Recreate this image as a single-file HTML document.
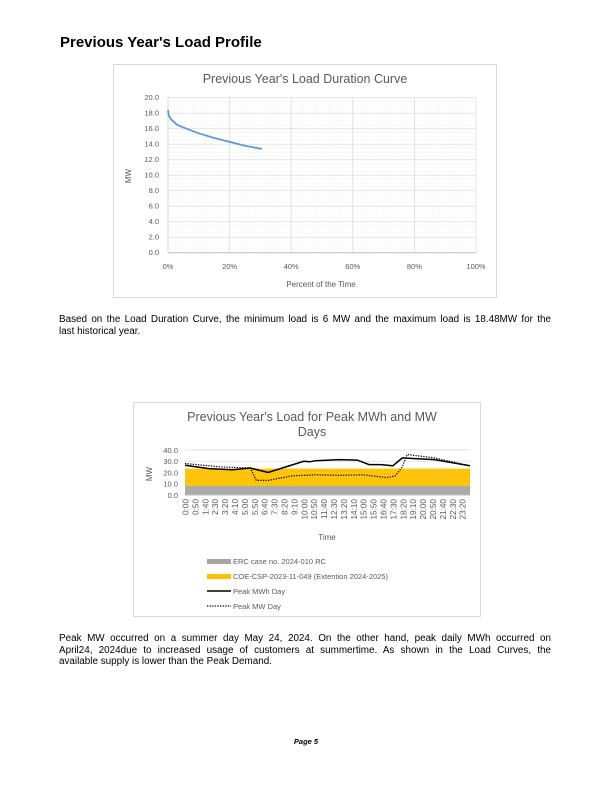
<!DOCTYPE html>
<html><head><meta charset="utf-8"><style>
body{margin:0;background:#fff;}
.pg{position:relative;width:612px;height:792px;font-family:"Liberation Sans",Arial,sans-serif;color:#000;}
h1{position:absolute;left:60px;top:34px;margin:0;font-size:15px;font-weight:bold;}
.p{position:absolute;left:59px;width:492px;font-size:9.9px;line-height:11.6px;}
.p div{text-align:justify;text-align-last:justify;white-space:nowrap;}
.p div.l{text-align-last:left;}
svg{position:absolute;left:0;top:0;}
</style></head><body><div class="pg">
<h1>Previous Year's Load Profile</h1>
<svg width="612" height="792" font-family="Liberation Sans, Arial, sans-serif">
<defs>
<pattern id="mx" width="12.32" height="7.75" patternUnits="userSpaceOnUse" x="168" y="97.7">
<path d="M0 0V7.75M0 0H12.32" stroke="#ececec" stroke-width="0.6" fill="none"/>
<path d="M0 3.875H12.32" stroke="#f1f1f1" stroke-width="0.5"/>
</pattern>
</defs>
<rect x="113.5" y="64.5" width="383" height="233" fill="#fff" stroke="#d9d9d9"/>
<text x="305" y="83" font-size="12.5" fill="#595959" text-anchor="middle">Previous Year's Load Duration Curve</text>
<rect x="168" y="97.7" width="308" height="155" fill="url(#mx)"/>
<g stroke="#d9d9d9" stroke-width="0.7">
<line x1="168" y1="97.7" x2="476" y2="97.7"/><line x1="168" y1="113.2" x2="476" y2="113.2"/><line x1="168" y1="128.7" x2="476" y2="128.7"/><line x1="168" y1="144.2" x2="476" y2="144.2"/><line x1="168" y1="159.7" x2="476" y2="159.7"/><line x1="168" y1="175.2" x2="476" y2="175.2"/><line x1="168" y1="190.7" x2="476" y2="190.7"/><line x1="168" y1="206.2" x2="476" y2="206.2"/><line x1="168" y1="221.7" x2="476" y2="221.7"/><line x1="168" y1="237.2" x2="476" y2="237.2"/>
<line x1="229.6" y1="97.7" x2="229.6" y2="252.7"/><line x1="291.2" y1="97.7" x2="291.2" y2="252.7"/><line x1="352.8" y1="97.7" x2="352.8" y2="252.7"/><line x1="414.4" y1="97.7" x2="414.4" y2="252.7"/><line x1="476" y1="97.7" x2="476" y2="252.7"/>
</g>
<line x1="168" y1="252.7" x2="476" y2="252.7" stroke="#bfbfbf"/>
<line x1="168" y1="97.7" x2="168" y2="252.7" stroke="#d9d9d9"/>
<g font-size="7.5" fill="#595959" text-anchor="end">
<text x="159" y="100">20.0</text><text x="159" y="115.5">18.0</text><text x="159" y="131">16.0</text><text x="159" y="146.5">14.0</text><text x="159" y="162">12.0</text><text x="159" y="177.5">10.0</text><text x="159" y="193">8.0</text><text x="159" y="208.5">6.0</text><text x="159" y="224">4.0</text><text x="159" y="239.5">2.0</text><text x="159" y="255">0.0</text>
</g>
<g font-size="7.5" fill="#595959" text-anchor="middle">
<text x="168" y="269">0%</text><text x="229.6" y="269">20%</text><text x="291.2" y="269">40%</text><text x="352.8" y="269">60%</text><text x="414.4" y="269">80%</text><text x="476" y="269">100%</text>
</g>
<text x="321" y="287" font-size="8" fill="#595959" text-anchor="middle">Percent of the Time</text>
<text transform="translate(131,176) rotate(-90)" font-size="8" fill="#595959" text-anchor="middle">MW</text>
<path d="M168 110.1 L168.6 115 L171.1 119.4 L177.2 124.8 L186.5 128.7 L198.8 133.3 L214.2 138 L229.6 141.9 L245 145.8 L262 148.9" fill="none" stroke="#5b9bd5" stroke-width="1.8"/>

<rect x="133.5" y="402.5" width="347" height="214" fill="#fff" stroke="#d9d9d9"/>
<text x="312" y="421" font-size="12.5" fill="#595959" text-anchor="middle">Previous Year's Load for Peak MWh and MW</text>
<text x="312" y="436" font-size="12.5" fill="#595959" text-anchor="middle">Days</text>
<g stroke="#d9d9d9" stroke-width="0.7">
<line x1="185" y1="450" x2="470" y2="450"/><line x1="185" y1="461.25" x2="470" y2="461.25"/><line x1="185" y1="472.5" x2="470" y2="472.5"/><line x1="185" y1="483.75" x2="470" y2="483.75"/>
</g>
<defs><pattern id="vb" width="1.98" height="10" patternUnits="userSpaceOnUse" x="185"><rect width="1.98" height="10" fill="none"/><line x1="0" y1="0" x2="0" y2="10" stroke="#fff" stroke-width="0.35" stroke-opacity="0.6"/></pattern></defs>
<rect x="185" y="468.6" width="285" height="17.4" fill="#ffc000"/>
<rect x="185" y="486" width="285" height="9" fill="#a5a5a5"/>
<rect x="185" y="468.6" width="285" height="26.4" fill="url(#vb)"/>
<line x1="185" y1="495" x2="470" y2="495" stroke="#bfbfbf"/>
<g font-size="7.5" fill="#595959" text-anchor="end">
<text x="178" y="453">40.0</text><text x="178" y="464">30.0</text><text x="178" y="475.5">20.0</text><text x="178" y="486.5">10.0</text><text x="178" y="498">0.0</text>
</g>
<text transform="translate(152,474) rotate(-90)" font-size="8" fill="#595959" text-anchor="middle">MW</text>
<g font-size="8.2" fill="#595959" text-anchor="end">
<text transform="translate(188.5,499) rotate(-90)">0:00</text>
<text transform="translate(198.4,499) rotate(-90)">0:50</text>
<text transform="translate(208.3,499) rotate(-90)">1:40</text>
<text transform="translate(218.2,499) rotate(-90)">2:30</text>
<text transform="translate(228.1,499) rotate(-90)">3:20</text>
<text transform="translate(238,499) rotate(-90)">4:10</text>
<text transform="translate(247.9,499) rotate(-90)">5:00</text>
<text transform="translate(257.8,499) rotate(-90)">5:50</text>
<text transform="translate(267.7,499) rotate(-90)">6:40</text>
<text transform="translate(277.6,499) rotate(-90)">7:30</text>
<text transform="translate(287.5,499) rotate(-90)">8:20</text>
<text transform="translate(297.4,499) rotate(-90)">9:10</text>
<text transform="translate(307.3,499) rotate(-90)">10:00</text>
<text transform="translate(317.2,499) rotate(-90)">10:50</text>
<text transform="translate(327.1,499) rotate(-90)">11:40</text>
<text transform="translate(337,499) rotate(-90)">12:30</text>
<text transform="translate(346.9,499) rotate(-90)">13:20</text>
<text transform="translate(356.8,499) rotate(-90)">14:10</text>
<text transform="translate(366.7,499) rotate(-90)">15:00</text>
<text transform="translate(376.6,499) rotate(-90)">15:50</text>
<text transform="translate(386.5,499) rotate(-90)">16:40</text>
<text transform="translate(396.4,499) rotate(-90)">17:30</text>
<text transform="translate(406.3,499) rotate(-90)">18:20</text>
<text transform="translate(416.2,499) rotate(-90)">19:10</text>
<text transform="translate(426.1,499) rotate(-90)">20:00</text>
<text transform="translate(436,499) rotate(-90)">20:50</text>
<text transform="translate(445.9,499) rotate(-90)">21:40</text>
<text transform="translate(455.8,499) rotate(-90)">22:30</text>
<text transform="translate(465.7,499) rotate(-90)">23:20</text>
</g>
<text x="327" y="540" font-size="8" fill="#595959" text-anchor="middle">Time</text>
<path d="M185 465.2 L208.8 468.6 L232.5 469.7 L250.3 468 L268.1 472.5 L285.9 466.9 L303.8 461.3 L309.7 461.8 L315.6 460.7 L339.4 459.6 L357.2 460.1 L369.1 464.6 L380.9 464.6 L392.8 465.8 L402.3 457.9 L410.6 458.4 L434.4 459.6 L470 465.8" fill="none" stroke="#000" stroke-width="1.5"/>
<path d="M185 463.5 L220.6 466.9 L250.3 468 L256.3 480.4 L268.1 480.4 L291.9 475.9 L315.6 474.8 L339.4 475.3 L363.1 474.8 L386.9 477.6 L395.2 475.9 L402.3 466.9 L407.1 454.5 L434.4 457.9 L470 465.8" fill="none" stroke="#000" stroke-width="1.2" stroke-dasharray="1.3 1.3"/>
<rect x="207" y="559" width="24" height="5" fill="#a5a5a5"/>
<text x="233" y="564" font-size="7.5" fill="#595959">ERC case no. 2024-010 RC</text>
<rect x="207" y="574" width="24" height="5" fill="#ffc000"/>
<text x="233" y="579" font-size="7.5" fill="#595959">COE-CSP-2023-11-049 (Extention 2024-2025)</text>
<line x1="207" y1="591" x2="231" y2="591" stroke="#000" stroke-width="1.5"/>
<text x="233" y="594" font-size="7.5" fill="#595959">Peak MWh Day</text>
<line x1="207" y1="606" x2="231" y2="606" stroke="#000" stroke-width="1.2" stroke-dasharray="1.3 1.3"/>
<text x="233" y="609" font-size="7.5" fill="#595959">Peak MW Day</text>
<text x="306" y="744" font-size="7.5" font-weight="bold" font-style="italic" text-anchor="middle">Page 5</text>
</svg>
<div class="p" style="top:314px"><div>Based on the Load Duration Curve, the minimum load is 6 MW and the maximum load is 18.48MW for the</div><div class="l">last historical year.</div></div>
<div class="p" style="top:633px"><div>Peak MW occurred on a summer day May 24, 2024. On the other hand, peak daily MWh occurred on</div><div>April24, 2024due to increased usage of customers at summertime. As shown in the Load Curves, the</div><div class="l">available supply is lower than the Peak Demand.</div></div>
</div></body></html>
